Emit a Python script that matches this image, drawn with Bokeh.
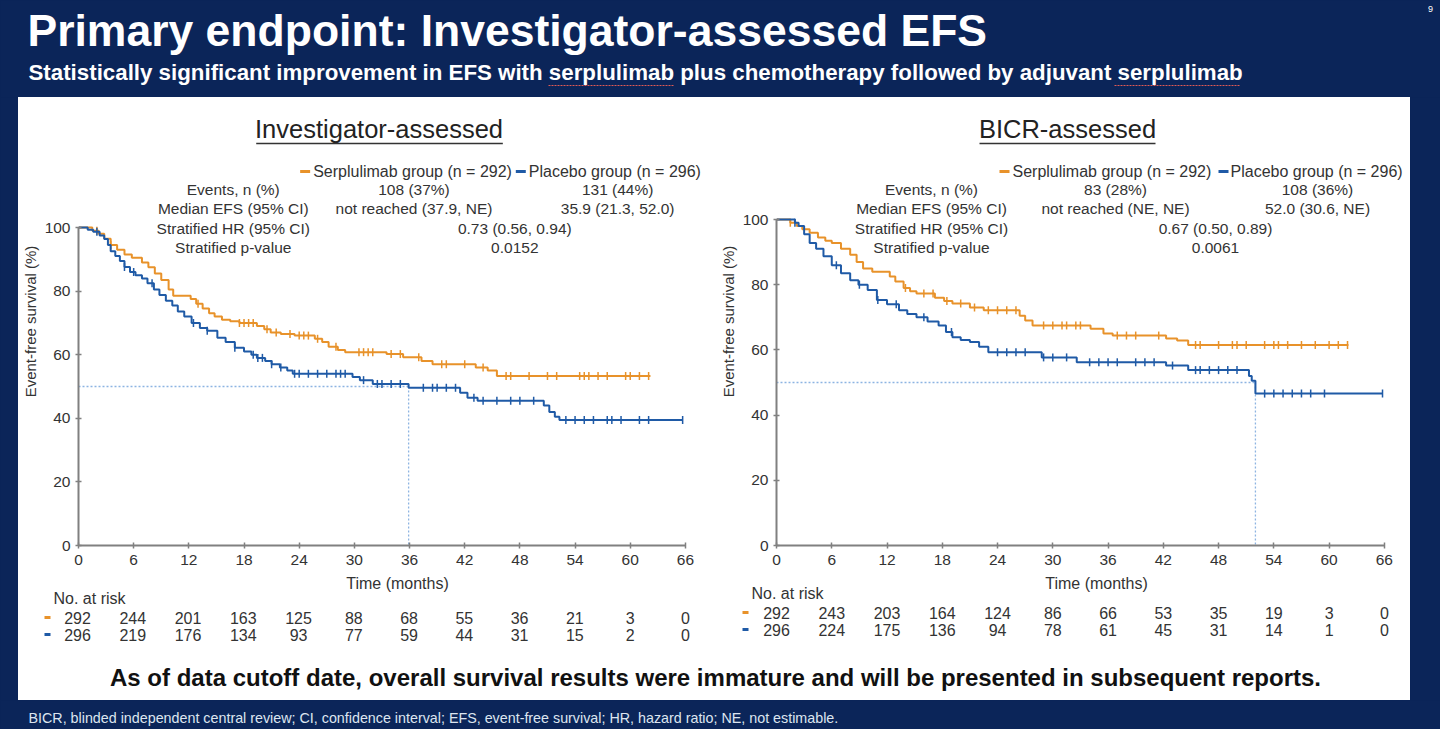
import numpy as np
from bokeh.plotting import figure
from bokeh.models import Range1d, FixedTicker
from bokeh.layouts import column, row
from bokeh.embed import file_html
from bokeh.resources import INLINE
from bokeh.core.properties import value

# ---------------------------------------------------------------- data
month_ticks = [0, 6, 12, 18, 24, 30, 36, 42, 48, 54, 60, 66]
surv_ticks = [0, 20, 40, 60, 80, 100]

# Investigator-assessed EFS (Kaplan-Meier steps: time in months, survival %)
inv_serp_t = [0, 1.5, 2.2, 2.8, 3.5, 4.2, 5.0, 5.8, 6.9, 7.6, 8.3, 9.0, 9.8, 10.3, 12.2, 12.8,
              13.5, 14.2, 14.8, 15.6, 16.5, 17.5, 19.4, 20.2, 20.9, 22.0, 23.5, 25.7, 26.5,
              27.2, 28.2, 29.0, 33.5, 35.3, 37.3, 38.5, 43.2, 44.5, 45.5]
inv_serp_s = [100, 99, 98, 96.5, 94.5, 93, 91.5, 90.5, 89, 87.5, 85.5, 83.5, 80.5, 78.5, 77.5, 76,
              74.5, 73, 72, 71, 70.5, 70, 69, 68, 67, 66.5, 66, 65, 64,
              62.5, 61.5, 60.8, 60.2, 59.2, 58, 57, 56, 55, 53.3]
inv_serp_end = 62.2
inv_serp_cens = [2, 3.5, 13, 17.5, 18, 18.5, 19, 20.5, 21.5, 23, 24, 24.5, 25, 26, 28, 30.5, 31,
                 31.5, 32, 34, 35, 37, 39.5, 40, 42, 44, 46.5, 47, 49, 51, 52, 54.5, 55, 55.5,
                 56.5, 57.5, 59.5, 60, 61, 62]

inv_pbo_t = [0, 1.0, 1.6, 2.3, 2.8, 3.2, 3.5, 4.0, 4.5, 5.0, 5.6, 6.2, 6.9, 7.5, 8.2, 8.8, 9.5,
             10.2, 10.8, 11.5, 12.3, 13.2, 14.0, 15.1, 16.0, 17.0, 18.0, 18.8, 19.4, 20.3, 21.0,
             21.9, 22.7, 23.3, 29.8, 30.6, 32.0, 35.9, 41.5, 42.3, 43.4, 50.6, 51.2, 51.8, 52.3]
inv_pbo_s = [100, 99.3, 98.7, 97.5, 96.4, 94.5, 92.5, 91, 89.5, 87.6, 86, 85, 84, 82.5, 80.5, 78.8,
             77, 75.5, 73.6, 72, 70, 68.4, 67.5, 65.3, 64, 62.2, 61, 60, 59, 58, 57,
             56, 55, 54, 53, 52, 50.8, 49.6, 48, 46.5, 45.5, 44, 42, 40.5, 39.5]
inv_pbo_end = 65.7
inv_pbo_cens = [2, 5, 6, 8, 12.5, 14, 17, 19, 19.5, 20, 21, 22, 23.5, 24, 25, 26, 27, 28, 28.5, 29,
                31, 32.5, 33, 34, 35, 37.5, 38.5, 39, 40, 41, 43, 44, 45.5, 47, 48, 49.5, 53, 54,
                55, 56, 57.5, 58, 59, 61, 62, 65.7]
inv_median_pbo = 35.9

# BICR-assessed EFS
bicr_serp_t = [0, 1.5, 2.2, 2.8, 3.6, 4.5, 5.3, 6.0, 7.0, 8.0, 8.7, 9.4, 10.4, 12.3, 12.9, 13.8,
               14.5, 15.2, 17.2, 18.2, 19.1, 21.0, 22.5, 26.4, 27.0, 27.8, 34.1, 35.5, 36.5,
               42.3, 43.5, 44.7]
bicr_serp_s = [100, 99, 98, 97, 95.9, 94.5, 93.5, 92.8, 91, 89.2, 87, 85, 84, 82.5, 81, 79,
               78, 77.3, 76, 75, 74.2, 73, 72.2, 70.5, 69, 67.5, 66.5, 65, 64.4,
               63.5, 62.9, 61.5]
bicr_serp_end = 62.1
bicr_serp_cens = [1.5, 14, 16, 17, 18.5, 20, 21.5, 23, 24, 25, 26, 29, 30, 31, 31.5, 32.5, 33, 37,
                  38, 39, 41.5, 45.5, 46, 48, 49.5, 50, 51, 53, 54, 54.5, 55.5, 57, 58.5, 60,
                  61, 62]

bicr_pbo_t = [0, 2.0, 2.4, 3.0, 3.6, 4.3, 5.1, 6.0, 7.0, 8.0, 8.9, 9.9, 10.9, 12.0, 13.3, 14.2,
              15.2, 16.4, 17.6, 18.4, 19.1, 20.0, 21.0, 22.0, 23.0, 28.8, 32.6, 42.3, 44.7,
              51.3, 51.6, 52.0]
bicr_pbo_s = [100, 99, 98, 95.5, 92.8, 91, 88.7, 86, 83.5, 81.4, 80, 78.4, 75.3, 74, 72.2, 71,
              70, 68.7, 67.5, 65.5, 63.9, 63, 62.4, 61, 59.3, 57.7, 56.2, 55.2, 53.8,
              52, 50.5, 46.6]
bicr_pbo_end = 65.8
bicr_pbo_cens = [2, 6.5, 9, 11, 13, 16, 19, 24, 25, 26, 27, 29, 30, 31.5, 34, 35, 36, 37, 39, 40,
                 41, 43, 45.5, 46, 47, 48, 49, 50, 53, 54, 55, 56, 57, 58, 59.5, 65.8]
bicr_median_pbo = 52.0

# Numbers at risk at each 6-month tick
inv_risk_serp = [292, 244, 201, 163, 125, 88, 68, 55, 36, 21, 3, 0]
inv_risk_pbo = [296, 219, 176, 134, 93, 77, 59, 44, 31, 15, 2, 0]
bicr_risk_serp = [292, 243, 203, 164, 124, 86, 66, 53, 35, 19, 3, 0]
bicr_risk_pbo = [296, 224, 175, 136, 94, 78, 61, 45, 31, 14, 1, 0]

# Summary statistics
stat_labels = ["Events, n (%)", "Median EFS (95% CI)", "Stratified HR (95% CI)", "Stratified p-value"]
group_labels = ["Serplulimab group (n = 292)", "Placebo group (n = 296)"]
inv_serp_stats = ["108 (37%)", "not reached (37.9, NE)"]
inv_pbo_stats = ["131 (44%)", "35.9 (21.3, 52.0)"]
inv_hr, inv_p = "0.73 (0.56, 0.94)", "0.0152"
bicr_serp_stats = ["83 (28%)", "not reached (NE, NE)"]
bicr_pbo_stats = ["108 (36%)", "52.0 (30.6, NE)"]
bicr_hr, bicr_p = "0.67 (0.50, 0.89)", "0.0061"

# ---------------------------------------------------------------- style
NAVY = "#0b2559"
ORANGE = "#e8922a"
BLUE = "#1f5aa6"
MEDIAN = "#8db4e2"
TEXT = "#333333"
AXIS = "#808080"
FONT_NAME = "Liberation Sans"
FONT = value(FONT_NAME)

TOP = 97          # top of the white area
AXIS_Y = 545      # page row of the time axis
KM_BOTTOM = 575
WHITE_LEFT, WHITE_RIGHT, WHITE_BOTTOM = 18, 1410, 700


def blank(width, height, xr, yr, fill):
    f = figure(width=width, height=height, x_range=xr, y_range=yr, title=None,
               output_backend="svg", toolbar_location=None,
               x_axis_location=None, y_axis_location=None,
               min_border=0, outline_line_color=None)
    f.background_fill_color = fill
    f.border_fill_color = fill
    f.grid.visible = False
    return f


def step_at(t, s, times):
    idx = np.searchsorted(np.asarray(t), np.asarray(times), side="right") - 1
    return list(np.asarray(s)[idx])


def km_plot(title, g, serp, pbo, median, serp_stats, pbo_stats, hr, pval):
    w = g["right"] - g["left"]
    ppm, ppp = g["ppm"], g["ppp"]
    p = figure(width=w, height=KM_BOTTOM - TOP, title=None,
               x_range=Range1d(0, (g["frame_right"] - g["x0"]) / ppm),
               y_range=Range1d(0, (AXIS_Y - TOP) / ppp),
               output_backend="svg", toolbar_location=None,
               min_border_left=g["x0"] - g["left"], min_border_right=g["right"] - g["frame_right"],
               min_border_top=0, min_border_bottom=KM_BOTTOM - AXIS_Y,
               outline_line_color=None)
    p.extra_x_ranges = {"px": Range1d(g["x0"], g["frame_right"])}
    p.extra_y_ranges = {"px": Range1d(AXIS_Y, TOP)}
    p.background_fill_color = "white"
    p.border_fill_color = "white"
    p.grid.visible = False

    for ax, ticks, bounds in ((p.xaxis, month_ticks, (0, 66)), (p.yaxis, surv_ticks, (0, 100))):
        ax.ticker = FixedTicker(ticks=ticks)
        ax.bounds = bounds
        ax.axis_line_color = AXIS
        ax.axis_line_width = 2
        ax.major_tick_line_color = AXIS
        ax.major_tick_line_width = 1.5
        ax.major_tick_in = 3
        ax.major_tick_out = 3
        ax.minor_tick_line_color = None
        ax.major_label_text_font = FONT_NAME
        ax.major_label_text_font_size = "15.5px"
        ax.major_label_text_color = TEXT
    p.xaxis.major_label_standoff = 6
    p.yaxis.major_label_standoff = 5
    p.yaxis.axis_label = "Event-free survival (%)"
    p.yaxis.axis_label_text_font = FONT_NAME
    p.yaxis.axis_label_text_font_size = "15px"
    p.yaxis.axis_label_text_font_style = "normal"
    p.yaxis.axis_label_text_color = TEXT
    p.yaxis.axis_label_standoff = 3

    # median reference lines for the placebo curve
    p.line([0, median], [50, 50], line_color=MEDIAN, line_width=1.3, line_dash="2 2")
    p.line([median, median], [50, 0], line_color=MEDIAN, line_width=1.3, line_dash="2 2")

    # Kaplan-Meier curves with censoring ticks
    for (t, s, end, cens), color in ((serp, ORANGE), (pbo, BLUE)):
        p.step(list(t) + [end], list(s) + [s[-1]], mode="after", line_color=color, line_width=2)
        p.scatter(cens, step_at(t, s, cens), marker="dash", angle=np.pi / 2, size=8,
                  line_color=color, line_width=1.5)

    # panel heading
    p.text(x=[g["title_x"]], y=[128], text=[title], x_range_name="px", y_range_name="px",
           text_font=FONT, text_font_size="25.5px", text_color="#222222",
           text_align="center", text_baseline="middle")
    p.segment(x0=[g["ul"][0]], y0=[143], x1=[g["ul"][1]], y1=[143], x_range_name="px",
              y_range_name="px", line_color="#333333", line_width=1.5)

    # legend row
    p.segment(x0=[g["leg"][0], g["leg"][2]], y0=[171, 171],
              x1=[g["leg"][0] + 10, g["leg"][2] + 10], y1=[171, 171],
              x_range_name="px", y_range_name="px", line_color=[ORANGE, BLUE], line_width=3)
    p.text(x=[g["leg"][1], g["leg"][3]], y=[171, 171], text=group_labels,
           x_range_name="px", y_range_name="px", text_font=FONT, text_font_size="16px",
           text_color=TEXT, text_align="left", text_baseline="middle")

    # statistics block
    rows_y = [189, 208, 228, 247]
    xs = [g["c1"]] * 4 + [g["c2"], g["c2"], g["c3"], g["c3"], g["chr"], g["chr"]]
    ys = rows_y + rows_y[:2] + rows_y[:2] + rows_y[2:]
    txt = stat_labels + serp_stats + pbo_stats + [hr, pval]
    p.text(x=xs, y=ys, text=txt, x_range_name="px", y_range_name="px",
           text_font=FONT, text_font_size="15.5px", text_color=TEXT,
           text_align="center", text_baseline="middle")
    return p


def risk_table(f, g, risk_serp, risk_pbo):
    # numbers at risk drawn on the panel's own time scale
    f.text(x=[g["time_x"]], y=[583], text=["Time (months)"], text_font=FONT,
           text_font_size="16px", text_color=TEXT, text_align="center", text_baseline="middle")
    f.text(x=[g["risk_x"]], y=[g["risk_y"][0]], text=["No. at risk"], text_font=FONT,
           text_font_size="16px", text_color=TEXT, text_align="left", text_baseline="middle")
    f.segment(x0=[g["risk_x"] - 9] * 2, x1=[g["risk_x"] - 3] * 2,
              y0=list(g["risk_y"][1:]), y1=list(g["risk_y"][1:]),
              line_color=[ORANGE, BLUE], line_width=3)
    for counts, yy in ((risk_serp, g["risk_y"][1]), (risk_pbo, g["risk_y"][2])):
        f.text(x=month_ticks, y=[yy] * len(month_ticks), text=[str(c) for c in counts],
               x_range_name=g["name"], text_font=FONT, text_font_size="16px",
               text_color=TEXT, text_align="center", text_baseline="middle")


left_geo = dict(name="inv", left=18, right=716, x0=77, frame_right=714, ppm=9.21, ppp=3.18,
                title_x=378, ul=(255, 502), leg=(299, 312, 515, 528),
                c1=232, c2=413, c3=617, chr=514,
                time_x=397, risk_x=53, risk_y=(598, 617, 634))
right_geo = dict(name="bicr", left=716, right=1410, x0=776, frame_right=1404, ppm=9.21, ppp=3.26,
                 title_x=1067, ul=(979, 1155), leg=(999, 1012, 1218, 1230),
                 c1=931, c2=1115, c3=1317, chr=1215,
                 time_x=1096, risk_x=751, risk_y=(593, 612, 629))

km_left = km_plot("Investigator-assessed", left_geo,
                  (inv_serp_t, inv_serp_s, inv_serp_end, inv_serp_cens),
                  (inv_pbo_t, inv_pbo_s, inv_pbo_end, inv_pbo_cens),
                  inv_median_pbo, inv_serp_stats, inv_pbo_stats, inv_hr, inv_p)
km_right = km_plot("BICR-assessed", right_geo,
                   (bicr_serp_t, bicr_serp_s, bicr_serp_end, bicr_serp_cens),
                   (bicr_pbo_t, bicr_pbo_s, bicr_pbo_end, bicr_pbo_cens),
                   bicr_median_pbo, bicr_serp_stats, bicr_pbo_stats, bicr_hr, bicr_p)

# lower white band: both at-risk tables and the closing statement
lower = blank(WHITE_RIGHT - WHITE_LEFT, WHITE_BOTTOM - KM_BOTTOM,
              Range1d(WHITE_LEFT, WHITE_RIGHT), Range1d(WHITE_BOTTOM, KM_BOTTOM), "white")
lower.extra_x_ranges = {
    g["name"]: Range1d((WHITE_LEFT - g["x0"]) / g["ppm"], (WHITE_RIGHT - g["x0"]) / g["ppm"])
    for g in (left_geo, right_geo)}
risk_table(lower, left_geo, inv_risk_serp, inv_risk_pbo)
risk_table(lower, right_geo, bicr_risk_serp, bicr_risk_pbo)
lower.text(x=[715], y=[677], text=["As of data cutoff date, overall survival results were immature "
                                   "and will be presented in subsequent reports."],
           text_font=FONT, text_font_size="24px", text_font_style="bold",
           text_color="#111111", text_align="center", text_baseline="middle")

# ---------------------------------------------------------------- slide frame
header = blank(1440, TOP, Range1d(0, 1440), Range1d(TOP, 0), NAVY)
header.text(x=[27], y=[30], text=["Primary endpoint: Investigator-assessed EFS"],
            text_font=FONT, text_font_size="44.5px", text_font_style="bold",
            text_color="white", text_align="left", text_baseline="middle")
header.text(x=[28], y=[72], text=["Statistically significant improvement in EFS with serplulimab "
                                  "plus chemotherapy followed by adjuvant serplulimab"],
            text_font=FONT, text_font_size="22.3px", text_font_style="bold",
            text_color="white", text_align="left", text_baseline="middle")
header.segment(x0=[548, 1114], y0=[85, 85], x1=[674, 1240], y1=[85, 85],
               line_color="#e05a55", line_width=1.2, line_dash="2 1")
header.text(x=[1430], y=[8], text=["9"], text_font=FONT, text_font_size="9px",
            text_color="white", text_align="center", text_baseline="middle")

mid_h = WHITE_BOTTOM - TOP
side_l = blank(WHITE_LEFT, mid_h, Range1d(0, 1), Range1d(0, 1), NAVY)
side_r = blank(1440 - WHITE_RIGHT, mid_h, Range1d(0, 1), Range1d(0, 1), NAVY)

footer = blank(1440, 729 - WHITE_BOTTOM, Range1d(0, 1440), Range1d(729, WHITE_BOTTOM), NAVY)
footer.text(x=[28], y=[717], text=["BICR, blinded independent central review; CI, confidence interval; "
                                   "EFS, event-free survival; HR, hazard ratio; NE, not estimable."],
            text_font=FONT, text_font_size="14.3px", text_color="#dde5f0",
            text_align="left", text_baseline="middle")

white_box = column(row(km_left, km_right, spacing=0), lower, spacing=0,
                   styles={"background-color": "white"})
page = column(header,
              row(side_l, white_box, side_r, spacing=0),
              footer, spacing=0, styles={"background-color": NAVY})

open("out.html", "w").write(file_html(page, INLINE))
